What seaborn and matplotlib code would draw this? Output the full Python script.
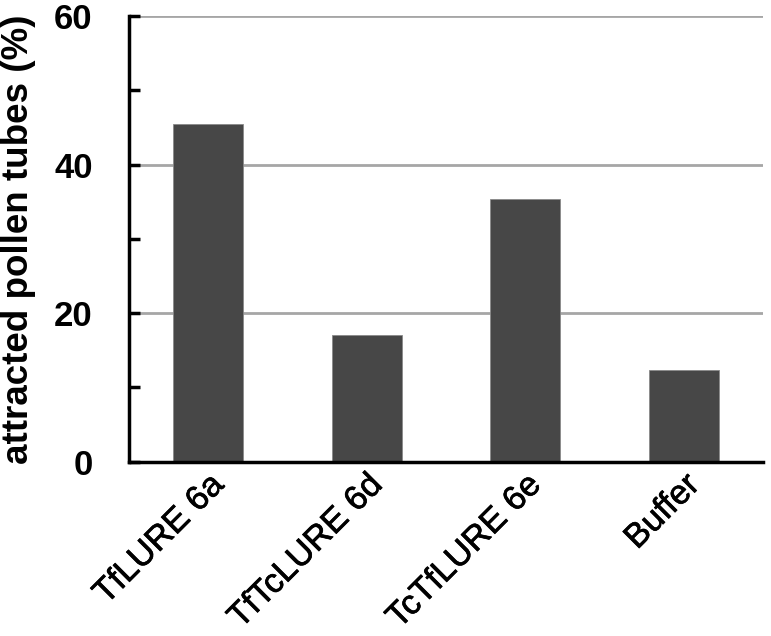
import pandas as pd
import matplotlib.pyplot as plt
import matplotlib.patheffects as pe
import seaborn as sns
from matplotlib.ticker import MultipleLocator

# Valores
muestras = ['TfLURE 6a', 'TfTcLURE 6d', 'TcTfLURE 6e', 'Buffer']
porcentaje = [45.5, 17.0, 35.3, 12.4]

df = pd.DataFrame({'muestra': muestras, 'porcentaje': porcentaje})

sns.set_style('white')
plt.rcParams['font.family'] = ['Liberation Sans', 'DejaVu Sans']
plt.rcParams['text.color'] = 'black'
plt.rcParams['axes.labelcolor'] = 'black'
plt.rcParams['xtick.color'] = 'black'
plt.rcParams['ytick.color'] = 'black'

fig = plt.figure(figsize=(7.71, 6.36), dpi=100)
ax = fig.add_axes([0.167, 0.274, 0.823, 0.701])

sns.barplot(data=df, x='muestra', y='porcentaje', color='#474747', width=0.44,
            saturation=1, edgecolor='#8a8a8a', linewidth=0.6, ax=ax, zorder=3)

ax.set_ylim(0, 60)
ax.set_xlim(-0.5, 3.5)
ax.yaxis.set_major_locator(MultipleLocator(20))
ax.yaxis.set_minor_locator(MultipleLocator(10))
ax.grid(axis='y', which='major', color='#a6a6a6', linewidth=2, zorder=0)

for lado in ['top', 'right']:
    ax.spines[lado].set_visible(False)
for lado in ['left', 'bottom']:
    ax.spines[lado].set_color('black')
    ax.spines[lado].set_linewidth(2.5)
    ax.spines[lado].set_zorder(4)

ax.tick_params(axis='y', which='both', direction='in', length=8, width=2.5,
               left=True, labelsize=25, pad=26)
ax.tick_params(axis='x', bottom=False, labelsize=24.5, pad=2)
# Etiquetas rotadas con un trazo fino para que se vean algo más gruesas
plt.setp(ax.get_xticklabels(), rotation=45, ha='right', rotation_mode='anchor',
         path_effects=[pe.withStroke(linewidth=0.5, foreground='black')])
plt.setp(ax.get_yticklabels(), fontweight='bold')

ax.set_xlabel('')
ax.set_ylabel('attracted pollen tubes (%)', fontsize=26.5, fontweight='bold', labelpad=13)

fig.savefig('out.png', dpi=100)
